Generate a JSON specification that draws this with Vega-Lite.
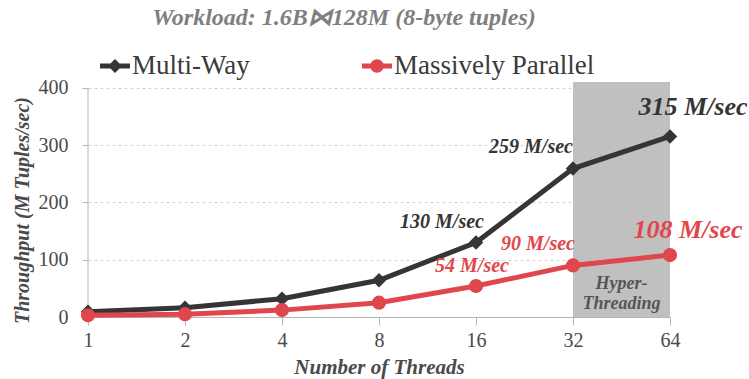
{
  "$schema": "https://vega.github.io/schema/vega-lite/v6.json",
  "width": 582,
  "height": 235,
  "autosize": "none",
  "padding": {"left": 88, "top": 82, "right": 79, "bottom": 62},
  "background": "white",
  "config": {
    "font": "Liberation Serif",
    "view": {"stroke": null},
    "axis": {"labelFont": "Liberation Serif", "titleFont": "Liberation Serif"},
    "legend": {"labelFont": "Liberation Serif"}
  },
  "title": {
    "text": "Workload: 1.6B⋈128M (8-byte tuples)",
    "fontSize": 24,
    "fontWeight": "bold",
    "fontStyle": "italic",
    "color": "#7f7f7f",
    "anchor": "middle",
    "frame": "group",
    "dx": -35,
    "offset": 9,
    "baseline": "middle"
  },
  "datasets": {
    "series": [
      {"threads": 1, "throughput": 9, "algo": "Multi-Way"},
      {"threads": 2, "throughput": 16, "algo": "Multi-Way"},
      {"threads": 4, "throughput": 32, "algo": "Multi-Way"},
      {"threads": 8, "throughput": 64, "algo": "Multi-Way"},
      {"threads": 16, "throughput": 130, "algo": "Multi-Way"},
      {"threads": 32, "throughput": 259, "algo": "Multi-Way"},
      {"threads": 64, "throughput": 315, "algo": "Multi-Way"},
      {"threads": 1, "throughput": 3, "algo": "Massively Parallel"},
      {"threads": 2, "throughput": 5, "algo": "Massively Parallel"},
      {"threads": 4, "throughput": 12, "algo": "Massively Parallel"},
      {"threads": 8, "throughput": 25, "algo": "Massively Parallel"},
      {"threads": 16, "throughput": 54, "algo": "Massively Parallel"},
      {"threads": 32, "throughput": 90, "algo": "Massively Parallel"},
      {"threads": 64, "throughput": 108, "algo": "Massively Parallel"}
    ],
    "labels": [
      {"threads": 16, "throughput": 130, "algo": "Multi-Way", "label": "130 M/sec"},
      {"threads": 32, "throughput": 259, "algo": "Multi-Way", "label": "259 M/sec"},
      {"threads": 64, "throughput": 315, "algo": "Multi-Way", "label": "315 M/sec"},
      {"threads": 16, "throughput": 54, "algo": "Massively Parallel", "label": "54 M/sec"},
      {"threads": 32, "throughput": 90, "algo": "Massively Parallel", "label": "90 M/sec"},
      {"threads": 64, "throughput": 108, "algo": "Massively Parallel", "label": "108 M/sec"}
    ]
  },
  "layer": [
    {
      "data": {"values": [{"start": 32, "end": 64}]},
      "mark": {"type": "rect", "color": "#c0c0c0"},
      "encoding": {
        "x": {
          "field": "start", "type": "quantitative",
          "scale": {"type": "log", "base": 2, "domain": [1, 64]},
          "axis": {
            "values": [1, 2, 4, 8, 16, 32, 64],
            "title": "Number of Threads",
            "titleFontSize": 21, "titleFontWeight": "bold", "titleFontStyle": "italic", "titleColor": "#4a4a4a",
            "titlePadding": 6,
            "labelFontSize": 20, "labelColor": "#4a4a4a", "labelPadding": 5,
            "domainColor": "#b5b5b5", "tickColor": "#b5b5b5", "tickSize": 8,
            "grid": false, "labelFlush": false
          }
        },
        "x2": {"field": "end"},
        "y": {
          "datum": 0, "type": "quantitative",
          "scale": {"domain": [0, 410], "nice": false},
          "axis": {
            "values": [0, 100, 200, 300, 400],
            "title": "Throughput (M Tuples/sec)",
            "titleFontSize": 20, "titleFontWeight": "bold", "titleFontStyle": "italic", "titleColor": "#4a4a4a",
            "titleX": -66, "titleY": 128, "titleBaseline": "middle", "titleAnchor": "middle",
            "labelFontSize": 20, "labelColor": "#4a4a4a", "labelPadding": 14,
            "domain": false, "tickColor": "#b5b5b5", "tickSize": 6,
            "grid": true, "gridColor": "#d5d5d5", "gridDash": [3, 3]
          }
        },
        "y2": {"datum": 410}
      }
    },
    {
      "data": {"values": [{"a": 1}]},
      "mark": {"type": "rule", "color": "#b5b5b5", "strokeWidth": 1},
      "encoding": {
        "x": {"datum": 1, "type": "quantitative"},
        "y": {"datum": 0, "type": "quantitative"},
        "y2": {"datum": 400}
      }
    },
    {
      "data": {"name": "series"},
      "transform": [{"filter": "datum.algo == 'Multi-Way'"}],
      "mark": {"type": "line", "strokeWidth": 5, "color": "#353535"},
      "encoding": {
        "x": {"field": "threads", "type": "quantitative"},
        "y": {"field": "throughput", "type": "quantitative"}
      }
    },
    {
      "data": {"name": "series"},
      "transform": [{"filter": "datum.algo == 'Massively Parallel'"}],
      "mark": {"type": "line", "strokeWidth": 5, "color": "#e0474c"},
      "encoding": {
        "x": {"field": "threads", "type": "quantitative"},
        "y": {"field": "throughput", "type": "quantitative"}
      }
    },
    {
      "data": {"name": "series"},
      "transform": [{"filter": "datum.algo == 'Multi-Way'"}],
      "mark": {"type": "point", "filled": true, "size": 210, "opacity": 1, "shape": "diamond", "color": "#353535"},
      "encoding": {
        "x": {"field": "threads", "type": "quantitative"},
        "y": {"field": "throughput", "type": "quantitative"}
      }
    },
    {
      "data": {"name": "series"},
      "transform": [{"filter": "datum.algo == 'Massively Parallel'"}],
      "mark": {"type": "point", "filled": true, "size": 200, "opacity": 1, "shape": "circle", "color": "#e0474c"},
      "encoding": {
        "x": {"field": "threads", "type": "quantitative"},
        "y": {"field": "throughput", "type": "quantitative"}
      }
    },
    {
      "data": {"name": "series"},
      "mark": {"type": "point", "filled": true, "size": 10, "opacity": 0},
      "encoding": {
        "x": {"field": "threads", "type": "quantitative"},
        "y": {"field": "throughput", "type": "quantitative"},
        "color": {
          "field": "algo", "type": "nominal",
          "scale": {"domain": ["Multi-Way", "Massively Parallel"], "range": ["#353535", "#e0474c"]},
          "legend": {
            "title": null, "orient": "none", "legendX": 12, "legendY": -31, "direction": "horizontal",
            "symbolSize": 900, "symbolStrokeWidth": 0, "symbolOpacity": 1, "labelLimit": 400,
            "labelFontSize": 27, "labelColor": "#3a3a3a", "labelOffset": 2, "columnPadding": 112, "padding": 0
          }
        },
        "shape": {
          "field": "algo", "type": "nominal",
          "scale": {
            "domain": ["Multi-Way", "Massively Parallel"],
            "range": [
              "M-1,-0.17L1,-0.17L1,0.17L-1,0.17Z M0,-0.47L0.47,0L0,0.47L-0.47,0Z",
              "M-1,-0.17L1,-0.17L1,0.17L-1,0.17Z M-0.45,0A0.45,0.45 0 1,1 0.45,0A0.45,0.45 0 1,1 -0.45,0Z"
            ]
          },
          "legend": {
            "title": null, "orient": "none", "legendX": 12, "legendY": -31, "direction": "horizontal",
            "symbolSize": 900, "symbolStrokeWidth": 0, "symbolOpacity": 1, "labelLimit": 400,
            "labelFontSize": 27, "labelColor": "#3a3a3a", "labelOffset": 2, "columnPadding": 112, "padding": 0
          }
        }
      }
    },
    {
      "data": {"values": [{"x": 45.25, "y": 40, "t": ["Hyper-", "Threading"]}]},
      "mark": {"type": "text", "fontSize": 18, "fontWeight": "bold", "fontStyle": "italic", "color": "#555555", "lineHeight": 20, "baseline": "middle", "dy": -10},
      "encoding": {
        "x": {"field": "x", "type": "quantitative"},
        "y": {"field": "y", "type": "quantitative"},
        "text": {"field": "t"}
      }
    },
    {
      "data": {"name": "labels"},
      "transform": [{"filter": "datum.label == '130 M/sec'"}],
      "mark": {"type": "text", "fontSize": 20, "fontWeight": "bold", "fontStyle": "italic", "baseline": "middle", "dx": -34, "dy": -20, "color": "#353535"},
      "encoding": {
        "x": {"field": "threads", "type": "quantitative"},
        "y": {"field": "throughput", "type": "quantitative"},
        "text": {"field": "label"}
      }
    },
    {
      "data": {"name": "labels"},
      "transform": [{"filter": "datum.label == '259 M/sec'"}],
      "mark": {"type": "text", "fontSize": 20, "fontWeight": "bold", "fontStyle": "italic", "baseline": "middle", "dx": -42, "dy": -22, "color": "#353535"},
      "encoding": {
        "x": {"field": "threads", "type": "quantitative"},
        "y": {"field": "throughput", "type": "quantitative"},
        "text": {"field": "label"}
      }
    },
    {
      "data": {"name": "labels"},
      "transform": [{"filter": "datum.label == '54 M/sec'"}],
      "mark": {"type": "text", "fontSize": 20, "fontWeight": "bold", "fontStyle": "italic", "baseline": "middle", "dx": -4, "dy": -20, "color": "#e0474c"},
      "encoding": {
        "x": {"field": "threads", "type": "quantitative"},
        "y": {"field": "throughput", "type": "quantitative"},
        "text": {"field": "label"}
      }
    },
    {
      "data": {"name": "labels"},
      "transform": [{"filter": "datum.label == '90 M/sec'"}],
      "mark": {"type": "text", "fontSize": 20, "fontWeight": "bold", "fontStyle": "italic", "baseline": "middle", "dx": -35, "dy": -21, "color": "#e0474c"},
      "encoding": {
        "x": {"field": "threads", "type": "quantitative"},
        "y": {"field": "throughput", "type": "quantitative"},
        "text": {"field": "label"}
      }
    },
    {
      "data": {"name": "labels"},
      "transform": [{"filter": "datum.label == '315 M/sec'"}],
      "mark": {"type": "text", "fontSize": 26, "fontWeight": "bold", "fontStyle": "italic", "baseline": "middle", "dx": 23, "dy": -29, "color": "#353535"},
      "encoding": {
        "x": {"field": "threads", "type": "quantitative"},
        "y": {"field": "throughput", "type": "quantitative"},
        "text": {"field": "label"}
      }
    },
    {
      "data": {"name": "labels"},
      "transform": [{"filter": "datum.label == '108 M/sec'"}],
      "mark": {"type": "text", "fontSize": 26, "fontWeight": "bold", "fontStyle": "italic", "baseline": "middle", "dx": 18, "dy": -25, "color": "#e0474c"},
      "encoding": {
        "x": {"field": "threads", "type": "quantitative"},
        "y": {"field": "throughput", "type": "quantitative"},
        "text": {"field": "label"}
      }
    }
  ]
}
